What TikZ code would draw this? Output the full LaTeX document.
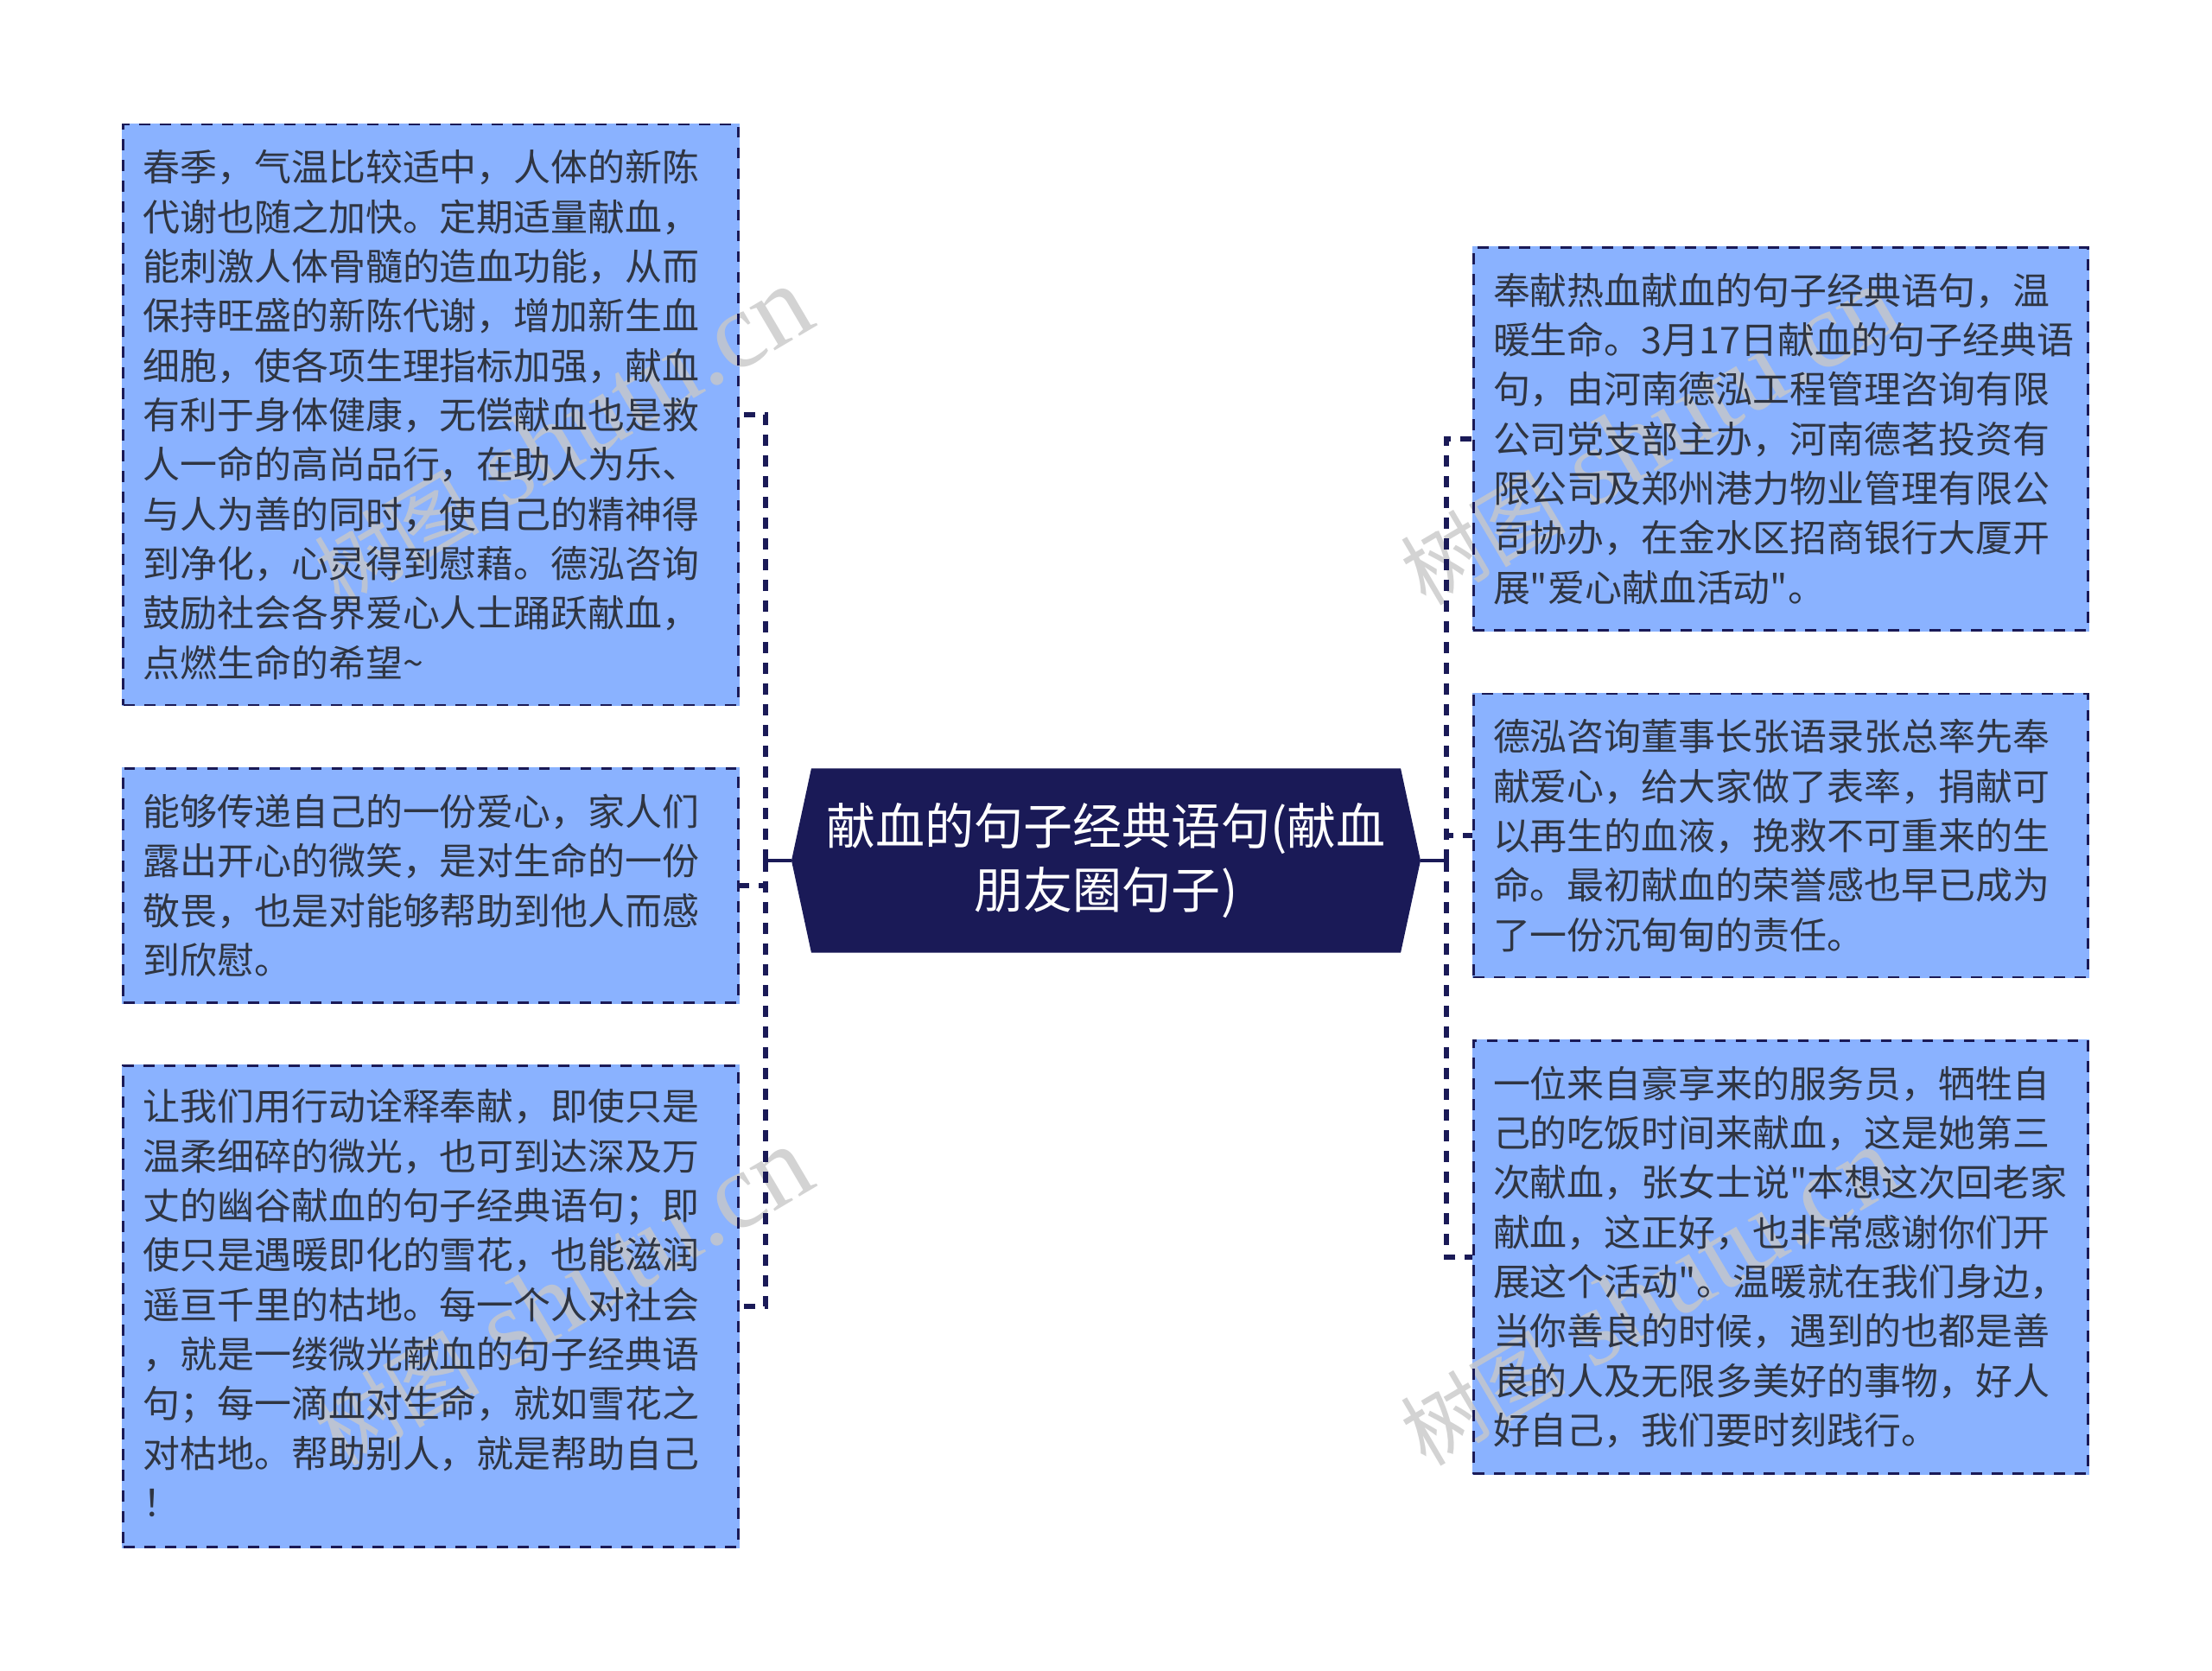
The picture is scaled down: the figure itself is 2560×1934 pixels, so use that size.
\documentclass[tikz,border=0pt]{standalone}
\usepackage{fontspec}
\newfontfamily\cjk{Noto Sans CJK SC}
\newfontfamily\markfont{Liberation Serif}
\usetikzlibrary{shapes.symbols}
\definecolor{navy}{RGB}{26,26,87}
\definecolor{leaf}{RGB}{138,178,255}
\definecolor{ink}{RGB}{47,53,66}
\definecolor{markgray}{RGB}{200,200,200}
\pgfdeclarelayer{fills}
\pgfdeclarelayer{marks}
\pgfsetlayers{fills,marks,main}
\tikzset{
	leafbox/.style={draw=navy,text=ink,line width=2.1pt,dash pattern=on 9.5pt off 8.5pt,
		text width=499.5pt,inner xsep=17pt,inner ysep=0pt,align=left,
		font={\fontsize{32.2}{43}\selectfont\cjk}},
	rootbox/.style={shape=signal,signal to=west and east,signal pointer angle=155.7,fill=navy,text=white,
		minimum width=546pt,minimum height=160pt,inner sep=0pt,align=center,
		font={\fontsize{42.8}{56}\selectfont\cjk}},
	rootlink/.style={draw=navy,line width=3pt},
	branchlink/.style={draw=navy,line width=3.8pt,dash pattern=on 10pt off 8pt},
	markstyle/.style={text=markgray,opacity=0.8,rotate=30.5,anchor=base west,inner sep=0pt,
		font={\fontsize{94}{94}\selectfont\markfont}}}
\newcommand{\marktext}{{\fontsize{72}{72}\selectfont\cjk 树图} shutu.cn}

\begin{document}
\begin{tikzpicture}[x=0.75pt,y=0.75pt,yscale=-1,xscale=1]
\useasboundingbox (0,0) rectangle (2560,1934);

% Root Node
\node [rootbox] (root) at (1280,996) {献血的句子经典语句(献血\\朋友圈句子)};

% Text Node
\node [leafbox,minimum height=504pt] (spring) at (498.5,480) {春季，气温比较适中，人体的新陈\\代谢也随之加快。定期适量献血，\\能刺激人体骨髓的造血功能，从而\\保持旺盛的新陈代谢，增加新生血\\细胞，使各项生理指标加强，献血\\有利于身体健康，无偿献血也是救\\人一命的高尚品行，在助人为乐、\\与人为善的同时，使自己的精神得\\到净化，心灵得到慰藉。德泓咨询\\鼓励社会各界爱心人士踊跃献血，\\点燃生命的希望\textasciitilde};
% Text Node
\node [leafbox,minimum height=203pt] (caring) at (498.5,1025) {能够传递自己的一份爱心，家人们\\露出开心的微笑，是对生命的一份\\敬畏，也是对能够帮助到他人而感\\到欣慰。};
% Text Node
\node [leafbox,minimum height=418pt] (action) at (498.5,1512) {让我们用行动诠释奉献，即使只是\\温柔细碎的微光，也可到达深及万\\丈的幽谷献血的句子经典语句；即\\使只是遇暖即化的雪花，也能滋润\\遥亘千里的枯地。每一个人对社会\\，就是一缕微光献血的句子经典语\\句；每一滴血对生命，就如雪花之\\对枯地。帮助别人，就是帮助自己\\！\rule[-6pt]{0pt}{6pt}};
% Text Node
\node [leafbox,minimum height=332pt] (warm) at (2061,508) {奉献热血献血的句子经典语句，温\\暖生命。3月17日献血的句子经典语\\句，由河南德泓工程管理咨询有限\\公司党支部主办，河南德茗投资有\\限公司及郑州港力物业管理有限公\\司协办，在金水区招商银行大厦开\\展"爱心献血活动"。};
% Text Node
\node [leafbox,minimum height=246pt] (leader) at (2061,967) {德泓咨询董事长张语录张总率先奉\\献爱心，给大家做了表率，捐献可\\以再生的血液，挽救不可重来的生\\命。最初献血的荣誉感也早已成为\\了一份沉甸甸的责任。};
% Text Node
\node [leafbox,minimum height=376pt] (waiter) at (2061,1455) {一位来自豪享来的服务员，牺牲自\\己的吃饭时间来献血，这是她第三\\次献血，张女士说"本想这次回老家\\献血，这正好，也非常感谢你们开\\展这个活动"。温暖就在我们身边，\\当你善良的时候，遇到的也都是善\\良的人及无限多美好的事物，好人\\好自己，我们要时刻践行。};

% Box Fills
\begin{pgfonlayer}{fills}
\foreach \boxname in {spring,caring,action,warm,leader,waiter}
	\fill [leaf] (\boxname.north west) rectangle (\boxname.south east);
\end{pgfonlayer}

%Straight Lines
\coordinate (trunkleft) at (886,996);
\coordinate (trunkright) at (1674,996);
\draw [rootlink] (root.west) -- (trunkleft);
\draw [rootlink] (root.east) -- (trunkright);
\draw [branchlink] (trunkleft) |- (spring.east);
\draw [branchlink] (trunkleft) |- (caring.east);
\draw [branchlink] (trunkleft) |- (action.east);
\draw [branchlink] (trunkright) |- (warm.west);
\draw [branchlink] (trunkright) |- (leader.west);
\draw [branchlink] (trunkright) |- (waiter.west);

% Watermark
\begin{pgfonlayer}{marks}
\node [markstyle] (markone) at (393,703) {\marktext};
\node [markstyle] (marktwo) at (393,1699) {\marktext};
\node [markstyle] (markthree) at (1650,703) {\marktext};
\node [markstyle] (markfour) at (1650,1699) {\marktext};
\end{pgfonlayer}

\end{tikzpicture}
\end{document}
